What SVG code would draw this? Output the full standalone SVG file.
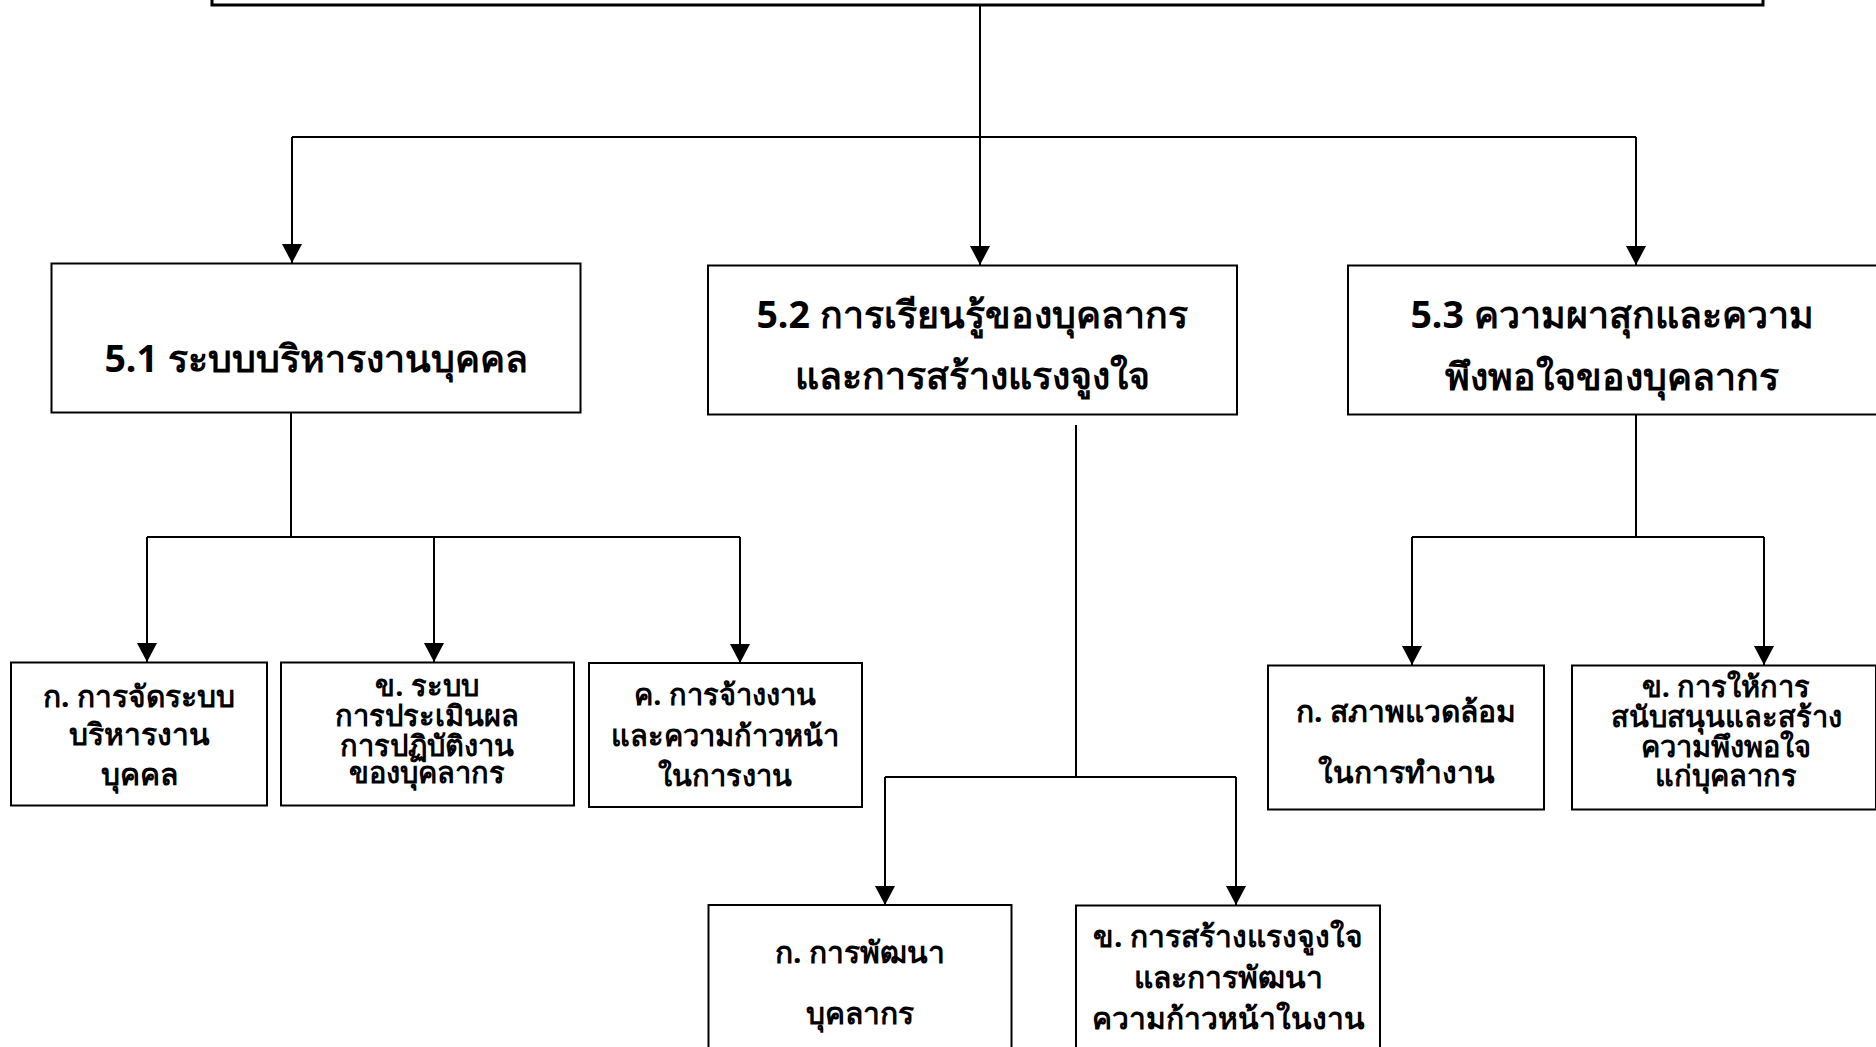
<svg xmlns="http://www.w3.org/2000/svg" width="1876" height="1047" viewBox="0 0 1876 1047">
<style>
.box{fill:#fff;stroke:#000;stroke-width:2}
.ln{fill:none;stroke:#000;stroke-width:2}
text{font-family:"Noto Sans","Liberation Sans",sans-serif;font-weight:bold;fill:#000;text-anchor:middle}
.h{font-size:37.5px}
.c{font-size:30px}
.s{font-size:29px}
</style>
<defs>
<marker id="ah" viewBox="0 0 19 20" refX="19" refY="10" markerWidth="19" markerHeight="20" markerUnits="userSpaceOnUse" orient="auto">
<path d="M0,0 L19,10 L0,20 Z" fill="#000"/>
</marker>
</defs>
<rect width="1876" height="1047" fill="#fff"/>
<g id="top"><rect class="box" x="212" y="-20" width="1551" height="25" style="stroke-width:3"/></g>
<g id="connectors">
<path class="ln" d="M980,5 V265" marker-end="url(#ah)"/>
<path class="ln" d="M292,137 H1636"/>
<path class="ln" d="M292,137 V263" marker-end="url(#ah)"/>
<path class="ln" d="M1636,137 V265" marker-end="url(#ah)"/>
<path class="ln" d="M291,413 V537"/>
<path class="ln" d="M147,537 H740"/>
<path class="ln" d="M147,537 V662" marker-end="url(#ah)"/>
<path class="ln" d="M434,537 V662" marker-end="url(#ah)"/>
<path class="ln" d="M740,537 V663" marker-end="url(#ah)"/>
<path class="ln" d="M1076,425 V777"/>
<path class="ln" d="M885,777 H1236"/>
<path class="ln" d="M885,777 V905" marker-end="url(#ah)"/>
<path class="ln" d="M1236,777 V905" marker-end="url(#ah)"/>
<path class="ln" d="M1636,413 V537"/>
<path class="ln" d="M1412,537 H1764"/>
<path class="ln" d="M1412,537 V665" marker-end="url(#ah)"/>
<path class="ln" d="M1764,537 V665" marker-end="url(#ah)"/>
</g>
<g id="n51"><rect class="box" x="51.5" y="263.5" width="529" height="149"/><text class="h" x="316" y="372">5.1 ระบบบริหารงานบุคคล</text></g>
<g id="n52"><rect class="box" x="708" y="265.5" width="529" height="149"/><text class="h" x="972" y="328">5.2 การเรียนรู้ของบุคลากร</text><text class="h" x="972" y="389">และการสร้างแรงจูงใจ</text></g>
<g id="n53"><rect class="box" x="1348" y="265.5" width="529" height="149"/><text class="h" x="1612" y="328">5.3 ความผาสุกและความ</text><text class="h" x="1612" y="390">พึงพอใจของบุคลากร</text></g>
<g id="n51a"><rect class="box" x="11" y="662.5" width="256" height="143"/><text class="c" x="139" y="707">ก. การจัดระบบ</text><text class="c" x="139" y="745">บริหารงาน</text><text class="c" x="139" y="785">บุคคล</text></g>
<g id="n51b"><rect class="box" x="281" y="662.5" width="293" height="143"/><text class="s" x="427" y="696">ข. ระบบ</text><text class="s" x="427" y="726">การประเมินผล</text><text class="s" x="427" y="756">การปฏิบัติงาน</text><text class="s" x="427" y="783">ของบุคลากร</text></g>
<g id="n51c"><rect class="box" x="589" y="663" width="273" height="144"/><text class="c" x="725" y="705" style="font-size:29px">ค. การจ้างงาน</text><text class="c" x="725" y="746" style="font-size:29px">และความก้าวหน้า</text><text class="c" x="725" y="786" style="font-size:29px">ในการงาน</text></g>
<g id="n53a"><rect class="box" x="1268" y="665.5" width="276" height="144"/><text class="c" x="1406" y="722">ก. สภาพแวดล้อม</text><text class="c" x="1406" y="783">ในการทำงาน</text></g>
<g id="n53b"><rect class="box" x="1572" y="665.5" width="304" height="144"/><text class="s" x="1726" y="697">ข. การให้การ</text><text class="s" x="1726" y="727">สนับสนุนและสร้าง</text><text class="s" x="1726" y="757">ความพึงพอใจ</text><text class="s" x="1726" y="786">แก่บุคลากร</text></g>
<g id="n52a"><rect class="box" x="708.5" y="905" width="303" height="160"/><text class="c" x="860" y="963">ก. การพัฒนา</text><text class="c" x="860" y="1024">บุคลากร</text></g>
<g id="n52b"><rect class="box" x="1076" y="905.5" width="304" height="160"/><text class="c" x="1228" y="947">ข. การสร้างแรงจูงใจ</text><text class="c" x="1228" y="988">และการพัฒนา</text><text class="c" x="1228" y="1029">ความก้าวหน้าในงาน</text></g>
</svg>
